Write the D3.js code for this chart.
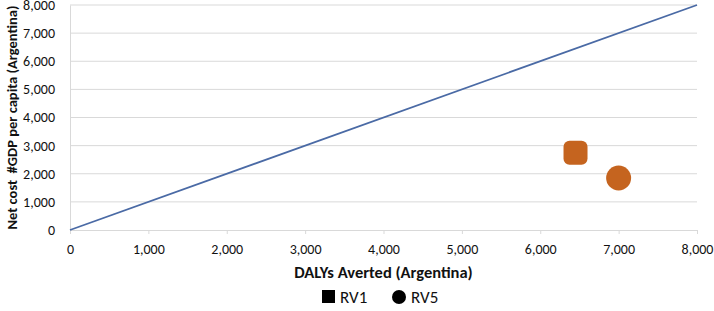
<!DOCTYPE html>
<html>
<head>
<meta charset="utf-8">
<script src="https://cdn.jsdelivr.net/npm/d3@7"></script>
<style>
  body { margin: 0; background: #fff; }
  text { font-family: Carlito, Lato, "Open Sans", sans-serif; fill: #111; }
</style>
</head>
<body>
<div id="container"></div>
<script>
/* CONSTANTS AND GLOBALS */
const width = 714, height = 311;
const margin = { top: 5, bottom: 81, left: 70, right: 17 };

/* DATA */
const lineX = [0, 8000];
const lineY = [0, 8000];
const series = ["RV1", "RV5"];
const dalys = [6450, 7000];
const netCost = [2750, 1850];
const ticks = [0, 1000, 2000, 3000, 4000, 5000, 6000, 7000, 8000];

/* SCALES */
const xScale = d3.scaleLinear().domain([0, 8000]).range([margin.left, width - margin.right]);
const yScale = d3.scaleLinear().domain([0, 8000]).range([height - margin.bottom, margin.top]);

const svg = d3.select("#container").append("svg")
  .attr("width", width).attr("height", height);

// gridlines
svg.append("g").selectAll("line")
  .data(ticks.filter(d => d > 0))
  .join("line")
  .attr("x1", margin.left).attr("x2", width - margin.right)
  .attr("y1", d => yScale(d)).attr("y2", d => yScale(d))
  .attr("stroke", "#d9d9d9");

// y axis
const yAxis = d3.axisLeft(yScale).tickValues(ticks).tickSize(0).tickPadding(15).tickFormat(d3.format(","));
svg.append("g")
  .attr("transform", `translate(${margin.left},0)`)
  .call(yAxis)
  .call(g => g.select(".domain").attr("stroke", "#d9d9d9"))
  .call(g => g.selectAll("text").style("font-size", "14px"));

// x axis
const xAxis = d3.axisBottom(xScale).tickValues(ticks).tickSize(4).tickPadding(10).tickFormat(d3.format(","));
svg.append("g")
  .attr("transform", `translate(0,${yScale(0)})`)
  .call(xAxis)
  .call(g => g.select(".domain").attr("stroke", "#d9d9d9"))
  .call(g => g.selectAll(".tick line").attr("stroke", "#d9d9d9"))
  .call(g => g.selectAll("text").style("font-size", "14px"));

// axis titles
svg.append("text")
  .attr("x", (margin.left + width - margin.right) / 2)
  .attr("y", 278)
  .attr("text-anchor", "middle")
  .style("font-size", "16.5px").style("font-weight", "bold")
  .text("DALYs Averted (Argentina)");

svg.append("text")
  .attr("transform", `translate(17,${(margin.top + height - margin.bottom) / 2}) rotate(-90)`)
  .attr("text-anchor", "middle")
  .style("font-size", "14.5px").style("font-weight", "bold")
  .style("white-space", "pre")
  .text("Net cost  #GDP per capita (Argentina)");

// diagonal line
svg.append("line")
  .attr("x1", xScale(lineX[0])).attr("y1", yScale(lineY[0]))
  .attr("x2", xScale(lineX[1])).attr("y2", yScale(lineY[1]))
  .attr("stroke", "#4a6aa5").attr("stroke-width", 1.8);

// points
const orange = "#c5641f";
svg.append("rect")
  .attr("x", xScale(dalys[0]) - 12).attr("y", yScale(netCost[0]) - 12)
  .attr("width", 24).attr("height", 24).attr("rx", 6)
  .attr("fill", orange);
svg.append("circle")
  .attr("cx", xScale(dalys[1])).attr("cy", yScale(netCost[1]))
  .attr("r", 12.5)
  .attr("fill", orange);

// legend
const legend = svg.append("g").attr("transform", "translate(322,297)");
legend.append("rect").attr("x", 0).attr("y", -7).attr("width", 13).attr("height", 13).attr("fill", "#000");
legend.append("text").attr("x", 18).attr("y", 6).style("font-size", "17px").text(series[0]);
legend.append("circle").attr("cx", 77).attr("cy", 0).attr("r", 7).attr("fill", "#000");
legend.append("text").attr("x", 89).attr("y", 6).style("font-size", "17px").text(series[1]);
</script>
</body>
</html>
